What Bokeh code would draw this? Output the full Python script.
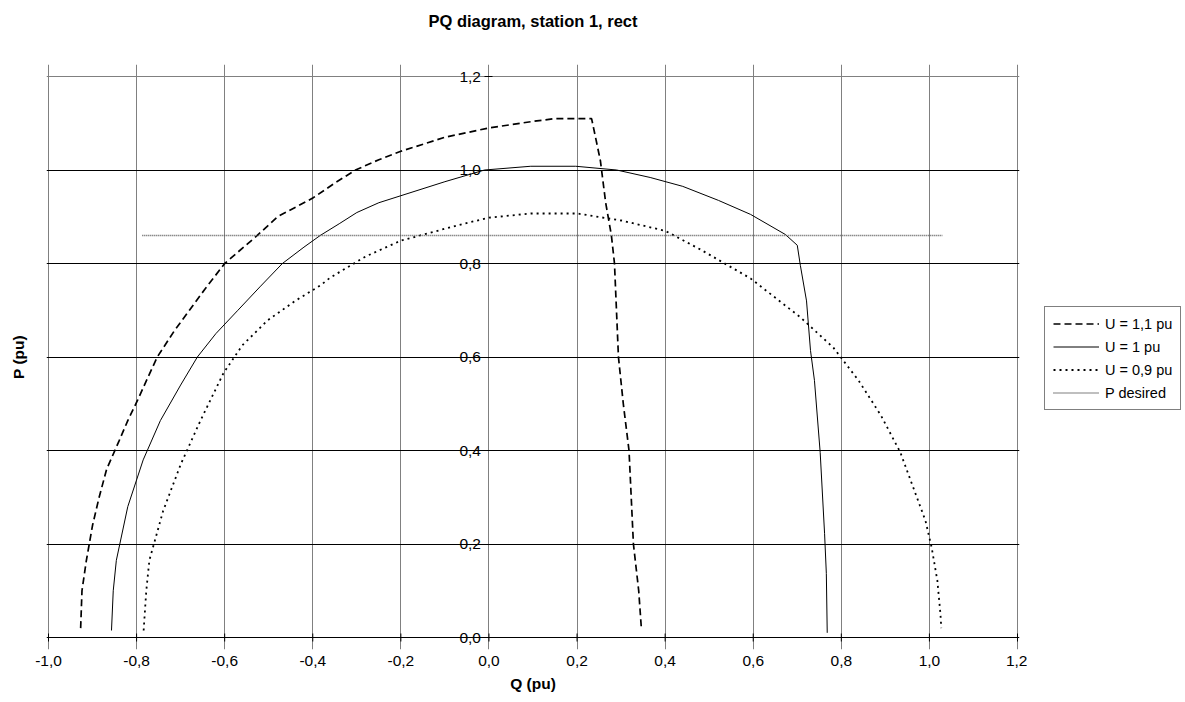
import numpy as np
from bokeh.plotting import figure
from bokeh.models import FixedTicker, Legend, LegendItem, LinearAxis, Grid
from bokeh.layouts import row
from bokeh.embed import file_html
from bokeh.resources import INLINE

# ---- data ----
q_u11 = [-0.927, -0.924, -0.914, -0.90, -0.885, -0.868, -0.84, -0.82, -0.798, -0.775, -0.753,
         -0.715, -0.68, -0.645, -0.60, -0.526, -0.48, -0.40, -0.35, -0.303, -0.25, -0.20, -0.10, 0.0,
         0.10, 0.15, 0.233, 0.253, 0.265, 0.278, 0.285, 0.294, 0.305, 0.318, 0.328, 0.34, 0.346]
p_u11 = [0.02, 0.10, 0.165, 0.24, 0.30, 0.36, 0.42, 0.464, 0.507, 0.555, 0.60,
         0.655, 0.70, 0.745, 0.80, 0.86, 0.90, 0.94, 0.972, 1.00, 1.022, 1.04, 1.07, 1.09,
         1.104, 1.11, 1.11, 1.02, 0.93, 0.86, 0.80, 0.60, 0.50, 0.40, 0.20, 0.10, 0.02]

q_u10 = [-0.857, -0.853, -0.846, -0.82, -0.785, -0.746, -0.70, -0.662, -0.62, -0.57, -0.52,
         -0.469, -0.42, -0.383, -0.34, -0.30, -0.25, -0.20, -0.10, -0.01, 0.095, 0.197,
         0.29, 0.366, 0.44, 0.521, 0.594, 0.673, 0.700, 0.707, 0.721, 0.730, 0.739, 0.752,
         0.762, 0.766, 0.768]
p_u10 = [0.015, 0.10, 0.165, 0.28, 0.38, 0.464, 0.54, 0.60, 0.65, 0.70, 0.75,
         0.80, 0.835, 0.86, 0.885, 0.909, 0.93, 0.945, 0.975, 1.00, 1.008, 1.008,
         1.00, 0.984, 0.965, 0.935, 0.905, 0.862, 0.839, 0.796, 0.72, 0.614, 0.55, 0.396,
         0.222, 0.137, 0.01]

q_u09 = [-0.784, -0.778, -0.771, -0.74, -0.70, -0.655, -0.603, -0.56, -0.503, -0.44, -0.383, -0.36,
         -0.28, -0.20, -0.148, -0.07, 0.0, 0.095, 0.20, 0.30, 0.40, 0.48, 0.594, 0.707,
         0.782, 0.839, 0.89, 0.934, 0.991, 1.005, 1.018, 1.025, 1.027]
p_u09 = [0.015, 0.10, 0.165, 0.27, 0.37, 0.464, 0.565, 0.625, 0.678, 0.72, 0.753, 0.77,
         0.815, 0.849, 0.862, 0.882, 0.898, 0.907, 0.907, 0.892, 0.87, 0.83, 0.768, 0.685,
         0.62, 0.55, 0.475, 0.396, 0.25, 0.193, 0.122, 0.051, 0.02]

q_pdes = [-0.787, 1.03]
p_pdes = [0.86, 0.86]

x_ticks = [-1.0, -0.8, -0.6, -0.4, -0.2, 0.0, 0.2, 0.4, 0.6, 0.8, 1.0, 1.2]
x_labels = ["-1,0", "-0,8", "-0,6", "-0,4", "-0,2", "0,0", "0,2", "0,4", "0,6", "0,8", "1,0", "1,2"]
y_ticks = [0.0, 0.2, 0.4, 0.6, 0.8, 1.0, 1.2]
y_labels = ["0,0", "0,2", "0,4", "0,6", "0,8", "1,0", "1,2"]

series_names = ["U = 1,1 pu", "U = 1 pu", "U = 0,9 pu", "P desired"]
title_text = "PQ diagram, station 1, rect"

FONT = "Liberation Sans"
TICK_FS = "15.5px"
LABEL_FS = "15.5px"

STYLES = [
    dict(line_color="black", line_width=1.7, line_dash="7 4"),
    dict(line_color="black", line_width=1),
    dict(line_color="black", line_width=1.8, line_dash="2 4"),
    dict(line_color="#555555", line_width=1.5, line_dash="1 1"),
]
SERIES = [(q_u11, p_u11), (q_u10, p_u10), (q_u09, p_u09), (q_pdes, p_pdes)]

Q0, Q1 = x_ticks[0], x_ticks[-1]
P0, P1 = y_ticks[0], y_ticks[-1]
# small padding around the chart box so that the edge labels at Q = 0 are not clipped
PX_Q = (Q1 - Q0) / 969.0
PX_P = (P1 - P0) / 561.0
PAD_Q = 2 * PX_Q
PAD_P = 12 * PX_P

p = figure(width=1027, height=700, output_backend="svg", toolbar_location=None,
           x_range=(Q0 - PAD_Q, Q1 + PAD_Q), y_range=(P0 - PAD_P, P1 + PAD_P),
           min_border_left=46, min_border_right=8, min_border_top=64, min_border_bottom=51,
           title=None)
p.outline_line_color = None

# grids (bounded to the chart box)
p.xgrid.ticker = FixedTicker(ticks=x_ticks)
p.xgrid.bounds = (P0, P1)
p.xgrid.grid_line_color = "#808080"
p.ygrid.ticker = FixedTicker(ticks=y_ticks[:-1])
p.ygrid.bounds = (Q0, Q1)
p.ygrid.grid_line_color = "black"
p.add_layout(Grid(dimension=1, ticker=FixedTicker(ticks=[P1]), bounds=(Q0, Q1),
                  grid_line_color="#808080"))

# x tick marks crossing the P = 0 line
p.scatter(x=x_ticks, y=[P0] * len(x_ticks), marker="dash", angle=np.pi / 2, size=8,
          line_color="black", line_width=1)

# x axis (labels only; its line is the P = 0 grid line)
xa = p.xaxis[0]
xa.ticker = FixedTicker(ticks=x_ticks)
xa.major_label_overrides = {t: l for t, l in zip(x_ticks, x_labels)}
xa.axis_line_color = None
xa.major_tick_line_color = None
xa.major_tick_in = 0
xa.major_tick_out = 0
xa.minor_tick_line_color = None
xa.major_label_text_font = FONT
xa.major_label_text_font_size = TICK_FS
xa.major_label_text_color = "black"
xa.major_label_standoff = 6
xa.axis_label = "Q (pu)"
xa.axis_label_text_font = FONT
xa.axis_label_text_font_size = LABEL_FS
xa.axis_label_text_font_style = "bold"
xa.axis_label_text_color = "black"
xa.axis_label_standoff = 6

# left axis: only its title
ya = p.yaxis[0]
ya.ticker = FixedTicker(ticks=[])
ya.major_tick_out = 0
ya.major_tick_in = 0
ya.major_tick_line_color = None
ya.minor_tick_line_color = None
ya.axis_line_color = None
ya.axis_label = "P (pu)"
ya.axis_label_text_font = FONT
ya.axis_label_text_font_size = LABEL_FS
ya.axis_label_text_font_style = "bold"
ya.axis_label_text_color = "black"
ya.axis_label_standoff = 20

# y axis drawn at Q = 0
y0 = LinearAxis(fixed_location=0, ticker=FixedTicker(ticks=y_ticks),
                major_label_overrides={t: l for t, l in zip(y_ticks, y_labels)},
                axis_line_color=None, major_tick_line_color="black",
                major_tick_in=4, major_tick_out=4, minor_tick_line_color=None,
                major_label_standoff=4, major_label_text_font=FONT,
                major_label_text_font_size=TICK_FS, major_label_text_color="black")
p.add_layout(y0, "left")

# chart title, as the label of a tick-less axis above the plot
top = LinearAxis(ticker=FixedTicker(ticks=[]), axis_line_color=None,
                 major_tick_line_color=None, minor_tick_line_color=None,
                 major_tick_out=0, major_tick_in=0,
                 axis_label=title_text, axis_label_text_font=FONT,
                 axis_label_text_font_size="16.5px", axis_label_text_font_style="bold",
                 axis_label_text_color="black", axis_label_standoff=35)
p.add_layout(top, "above")

# series
for (qs, ps), st in zip(SERIES, STYLES):
    p.line(qs, ps, **st)

# legend panel (separate figure to the right; its ranges keep the lines out of view)
lp = figure(width=155, height=700, output_backend="svg", toolbar_location=None,
            x_range=(5, 6), y_range=(5, 6), x_axis_location=None, y_axis_location=None,
            min_border=0, title=None)
lp.grid.visible = False
lp.outline_line_color = None
lrs = []
for (qs, ps), st in zip(SERIES, STYLES):
    lrs.append(lp.line(qs, ps, **st))

legend = Legend(items=[LegendItem(label=n, renderers=[r]) for n, r in zip(series_names, lrs)],
                location=(17, 239))
legend.label_text_font = FONT
legend.label_text_font_size = "14.5px"
legend.label_text_color = "black"
legend.glyph_width = 46
legend.glyph_height = 17
legend.label_height = 17
legend.label_standoff = 6
legend.spacing = 6
legend.padding = 8
legend.margin = 0
legend.border_line_color = "black"
legend.border_line_width = 1
legend.background_fill_color = "white"
legend.background_fill_alpha = 1
lp.add_layout(legend)

layout = row(p, lp, spacing=0)
open("out.html", "w").write(file_html(layout, INLINE))
